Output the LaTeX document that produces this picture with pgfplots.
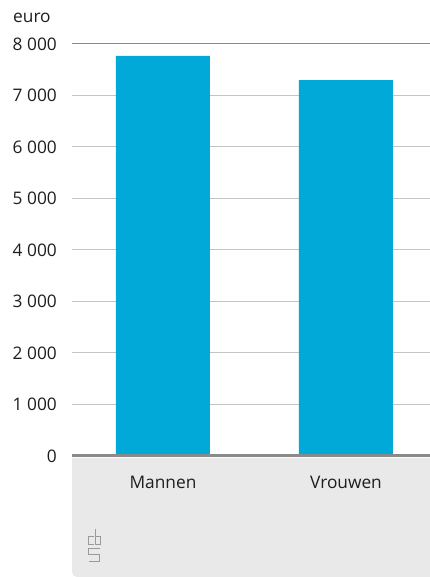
\documentclass[border=0pt]{standalone}
\usepackage{fontspec}
\setmainfont{Open Sans}
\usepackage{pgfplots}
\pgfplotsset{compat=1.18}
\definecolor{cbsblue}{HTML}{00A9D8}
\definecolor{boxgray}{HTML}{E9E9E9}
\definecolor{gridgray}{HTML}{C4C4C4}
\definecolor{axisgray}{HTML}{8A8A8A}
\definecolor{txt}{HTML}{1E1E1E}
\definecolor{logogray}{HTML}{9A9A9A}
\begin{document}
\begin{tikzpicture}[x=1pt,y=1pt,font=\fontsize{17.3}{20}\selectfont]
\path[use as bounding box] (0,0) rectangle (430,577);
\fill[boxgray] (430,119) -- (72,119) [rounded corners=5pt] -- (72,0) [sharp corners] -- (430,0) -- cycle;
\begin{axis}[
  at={(72pt,121pt)}, anchor=south west, scale only axis,
  width=358pt, height=412pt,
  xmin=-0.497, xmax=1.459, ymin=0, ymax=8000,
  clip=false,
  axis line style={draw=none}, tick style={draw=none},
  ymajorgrids, grid style={gridgray, line width=1pt},
  ytick={0,1000,...,8000},
  xtick={0,1}, xticklabels={Mannen,Vrouwen},
  /pgf/number format/assume math mode=true,
  /pgf/number format/1000 sep={\ },
  yticklabel style={font=\fontsize{17.3}{20}\selectfont, text=txt, anchor=east, inner sep=0pt, xshift=-15pt},
  xticklabel style={font=\fontsize{17.3}{20}\selectfont, text=txt, anchor=base, inner sep=0pt, yshift=-28pt},
  ybar, bar width=94pt,
]
\addplot[fill=cbsblue, draw=none] coordinates {(0,7770) (1,7300)};
\draw[axisgray, line width=1pt] (rel axis cs:0,1) -- (rel axis cs:1,1);
\draw[axisgray, line width=3pt] (rel axis cs:0,0) -- (rel axis cs:1,0);
\end{axis}
\node[anchor=base west, inner sep=0pt, text=txt] at (13,554) {euro};
\begin{scope}[draw=logogray, line width=0.8pt, double=boxgray, double distance=1.2pt, line cap=butt, line join=miter]
\draw (93.5,40.5) -- (88.5,40.5) -- (88.5,32.5) -- (93.5,32.5);
\draw (95,48) -- (95,32.5) -- (100,32.5) -- (100,40.5) -- (95,40.5);
\draw (99.5,29) -- (88.5,29) -- (88.5,22.5) -- (99.5,22.5) -- (99.5,16) -- (88.5,16);
\end{scope}
\end{tikzpicture}
\end{document}
